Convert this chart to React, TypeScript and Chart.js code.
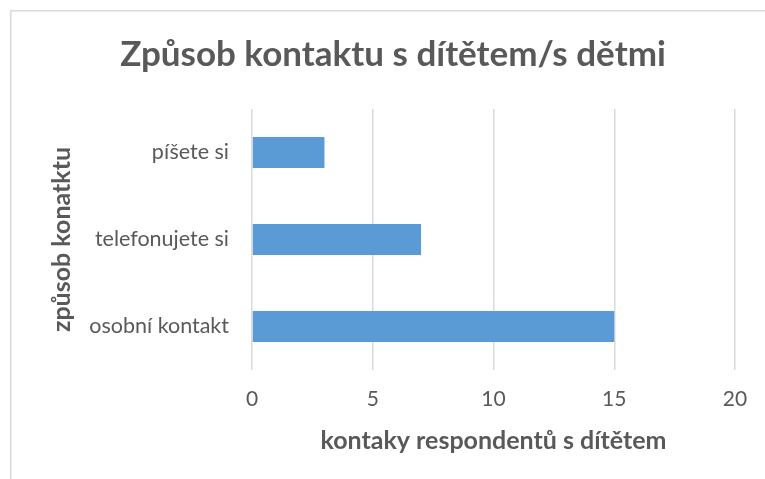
import React, { useEffect, useRef } from "react";
import { Chart, registerables } from "chart.js";

Chart.register(...registerables);

const titleText = "Způsob kontaktu s dítětem/s dětmi";
const categories = ["píšete si", "telefonujete si", "osobní kontakt"];
const contacts = [3, 7, 15];
const xTicks = [0, 5, 10, 15, 20];
const xTitle = "kontaky respondentů s dítětem";
const yTitle = "způsob konatktu";

const FONT = "Lato, 'Open Sans', sans-serif";
const TEXT = "#595959";

const framePlugin = {
  id: "frame",
  beforeDraw(chart: any) {
    const ctx = chart.ctx;
    ctx.save();
    ctx.fillStyle = "#ffffff";
    ctx.fillRect(0, 0, chart.width, chart.height);
    ctx.strokeStyle = "#d9d9d9";
    ctx.lineWidth = 1.5;
    ctx.strokeRect(10.75, 10.75, chart.width + 20, chart.height + 20);
    ctx.restore();
  },
  afterDraw(chart: any) {
    const ctx = chart.ctx;
    ctx.save();
    ctx.fillStyle = TEXT;
    ctx.font = `bold 35px ${FONT}`;
    ctx.textAlign = "center";
    ctx.textBaseline = "middle";
    ctx.fillText(titleText, 393, 55);
    ctx.restore();
  },
};

export default function App() {
  const ref = useRef<HTMLCanvasElement>(null);
  useEffect(() => {
    document.body.style.margin = "0";
    const chart = new Chart(ref.current!, {
      type: "bar",
      data: {
        labels: categories,
        datasets: [
          {
            data: contacts,
            backgroundColor: "#5b9bd5",
            borderWidth: 0,
            categoryPercentage: 1,
            barPercentage: 0.356,
          },
        ],
      },
      options: {
        indexAxis: "y",
        animation: false,
        responsive: false,
        maintainAspectRatio: false,
        layout: { padding: { left: 0, right: 30, top: 109, bottom: 0 } },
        plugins: {
          legend: { display: false },
          tooltip: { enabled: false },
          title: { display: false },
        },
        scales: {
          x: {
            min: xTicks[0],
            max: xTicks[xTicks.length - 1],
            afterBuildTicks(scale: any) {
              scale.ticks = xTicks.map((v) => ({ value: v }));
            },
            afterFit(scale: any) {
              scale.height = 109;
            },
            grid: { color: "#d9d9d9", lineWidth: 1.5, drawTicks: false },
            border: { display: false },
            ticks: {
              color: TEXT,
              padding: 17,
              font: { family: FONT, size: 21 },
            },
            title: {
              display: true,
              text: xTitle,
              color: TEXT,
              font: { family: FONT, size: 25, weight: "bold", lineHeight: 1.2 },
              padding: { top: 0, bottom: 23 },
            },
          },
          y: {
            afterFit(scale: any) {
              scale.width = 252;
            },
            grid: { display: false, drawTicks: false },
            border: { display: false },
            ticks: {
              color: TEXT,
              padding: 23,
              font: { family: FONT, size: 21.5 },
            },
            title: {
              display: true,
              text: yTitle,
              color: TEXT,
              font: { family: FONT, size: 25, weight: "bold", lineHeight: 1.2 },
              padding: { top: 47, bottom: 0 },
            },
          },
        },
      },
      plugins: [framePlugin],
    });
    return () => chart.destroy();
  }, []);
  return <canvas ref={ref} width={765} height={479} style={{ display: "block" }} />;
}
